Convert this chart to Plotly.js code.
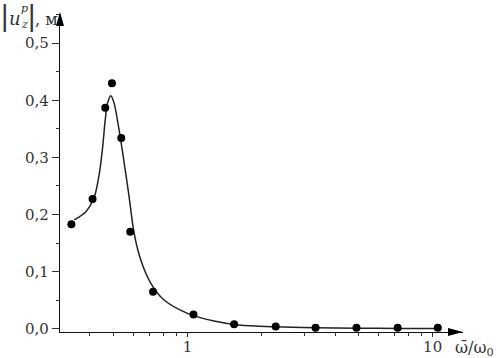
<!DOCTYPE html>
<html>
<head>
<meta charset="utf-8">
<script src="https://cdn.plot.ly/plotly-3.0.1.min.js"></script>
<style>html,body{margin:0;padding:0;background:#fff}#chart{width:496px;height:358px}</style>
</head>
<body>
<div id="chart"></div>
<script>
// Measured points
var ptX = [0.336, 0.41, 0.462, 0.492, 0.537, 0.584, 0.724, 1.058, 1.55, 2.29, 3.33, 4.89, 7.2, 10.5];
var ptY = [0.183, 0.227, 0.387, 0.430, 0.334, 0.170, 0.065, 0.025, 0.008, 0.004, 0.002, 0.002, 0.002, 0.002];
// Fitted curve
var curveX = [0.345, 0.385, 0.417, 0.437, 0.451, 0.462, 0.472, 0.487, 0.502, 0.526, 0.552, 0.578, 0.606, 0.645, 0.709, 0.803, 1.0, 1.283, 1.622, 2.29, 3.33, 4.89, 7.2, 10.6];
var curveY = [0.1905, 0.205, 0.231, 0.272, 0.319, 0.366, 0.395, 0.408, 0.395, 0.348, 0.290, 0.231, 0.167, 0.1205, 0.0797, 0.0504, 0.0271, 0.0137, 0.0067, 0.0035, 0.0018, 0.0010, 0.0007, 0.0005];
// Tick labels
var yTickVals = [0, 0.1, 0.2, 0.3, 0.4, 0.5];
var yTickText = ['0,0', '0,1', '0,2', '0,3', '0,4', '0,5'];
var xTickVals = [1, 10];
var xTickText = ['1', '10'];
var xMinorVals = [0.4, 0.5, 0.6, 0.7, 0.8, 0.9, 2, 3, 4, 5, 6, 7, 8, 9];

var W = 403, H = 318; // plot area px
var FAM = '"DejaVu Serif", "Liberation Serif", serif';
var font = {family: FAM, size: 15, color: '#333'};

var traces = [
  {x: curveX, y: curveY, mode: 'lines', line: {color: '#222', width: 1.5, shape: 'spline', smoothing: 0.8}, hoverinfo: 'skip'},
  {x: ptX, y: ptY, mode: 'markers', marker: {color: '#000', size: 8}}
];

function px(dx){return dx / W;}
function py(dy){return dy / H;}
function ann(xp, yp, text, size, anchor){
  return {xref: 'paper', yref: 'paper', x: px(xp - 60), y: py(332 - yp), xanchor: anchor || 'left', yanchor: 'middle',
    showarrow: false, borderpad: 0, text: text, font: {family: FAM, size: size, color: '#333'}};
}

var layout = {
  width: 496, height: 358,
  margin: {l: 60, r: 33, t: 14, b: 26, pad: 0},
  paper_bgcolor: '#fff', plot_bgcolor: '#fff',
  showlegend: false,
  font: font,
  xaxis: {
    type: 'log', range: [Math.log10(0.302), Math.log10(13.3)],
    showgrid: false, zeroline: false, showline: true, linecolor: '#111', linewidth: 1.2,
    ticks: 'outside', ticklen: 4, tickwidth: 1, tickcolor: '#333',
    tickmode: 'array', tickvals: xTickVals, ticktext: xTickText, ticklabelstandoff: -3,
    minor: {tickmode: 'array', tickvals: xMinorVals, ticks: 'outside', ticklen: 3, tickcolor: '#333', tickwidth: 1},
    tickfont: font
  },
  yaxis: {
    range: [-0.0056, 0.551],
    showgrid: false, zeroline: false, showline: true, linecolor: '#111', linewidth: 1.2,
    ticks: 'outside', ticklen: 7, tickwidth: 1, tickcolor: '#333',
    tickmode: 'array', tickvals: yTickVals, ticktext: yTickText,
    minor: {dtick: 0.05, ticks: 'outside', ticklen: 3, tickcolor: '#333', tickwidth: 1},
    tickfont: font
  },
  shapes: [
    {type: 'path', xref: 'paper', yref: 'paper', fillcolor: '#000', line: {width: 0},
     path: 'M 1,0 L ' + (1 - px(15)) + ',' + py(4) + ' L ' + (1 - px(15)) + ',' + (-py(4)) + ' Z'},
    {type: 'path', xref: 'paper', yref: 'paper', fillcolor: '#000', line: {width: 0},
     path: 'M 0,' + (1 + py(2)) + ' L ' + px(-4) + ',' + (1 - py(12)) + ' L ' + px(4) + ',' + (1 - py(12)) + ' Z'}
  ],
  annotations: [
    ann(495, 348, 'ω̄/ω<sub>0</sub>', 16, 'right'),
    ann(5, 15, '|', 28, 'center'),
    ann(8, 18, '<i>u</i>', 18),
    ann(20, 8, '<i>p</i>', 11),
    ann(20, 24, '<i>z</i>', 11),
    ann(31, 15, '|', 28, 'center'),
    ann(34, 19, ', м', 16)
  ]
};

Plotly.newPlot('chart', traces, layout, {staticPlot: true, displayModeBar: false});
</script>
</body>
</html>
